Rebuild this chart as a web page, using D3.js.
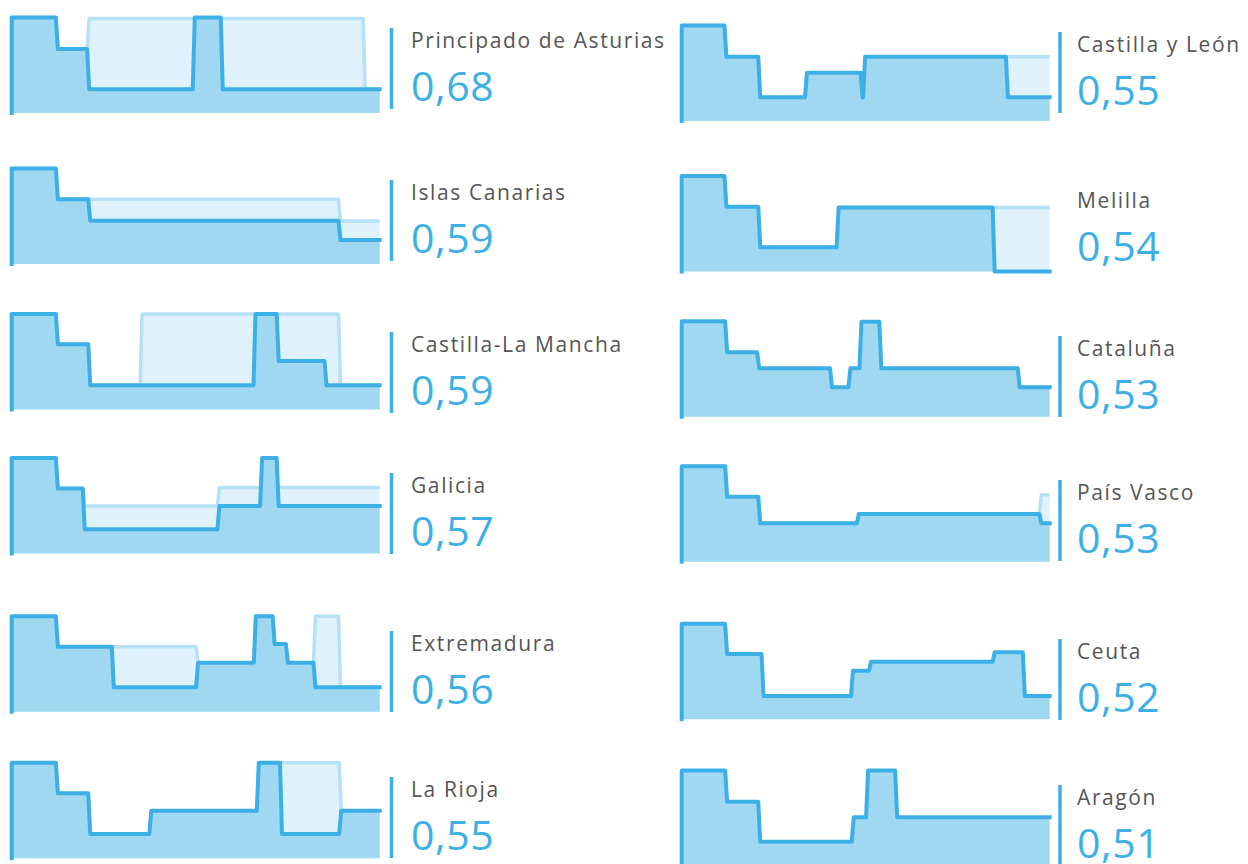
<!DOCTYPE html>
<html>
<head>
<meta charset="utf-8">
<script src="https://cdn.jsdelivr.net/npm/d3@7"></script>
<style>
  html, body { margin: 0; padding: 0; background: #ffffff; }
  svg { display: block; }
</style>
</head>
<body>
<svg id="chart" width="1248" height="864"></svg>
<script>
// ---------- DATA ----------
// Regions in ranking order (column-major: left column, then right column)
const regions = [
  "Principado de Asturias", "Islas Canarias", "Castilla-La Mancha",
  "Galicia", "Extremadura", "La Rioja",
  "Castilla y León", "Melilla", "Cataluña",
  "País Vasco", "Ceuta", "Aragón"
];
const scores = [0.68, 0.59, 0.59, 0.57, 0.56, 0.55, 0.55, 0.54, 0.53, 0.53, 0.52, 0.51];

// Step series: [time (0-100), level (0-100)] – value holds until next breakpoint
const asturias    = [[0,100],[12,67],[20.5,25],[49.2,100],[56.8,25]];
const canarias    = [[0,100],[12,67.7],[20.8,45.3],[88.8,25.1]];
const clm         = [[0,100],[12,68.4],[20.8,25.4],[65.7,100],[72,50.9],[85,25.4]];
const galicia     = [[0,100],[12,68],[19.3,25.4],[55.9,49.8],[67.5,100],[72,49.8]];
const extremadura = [[0,100],[12,68],[27.2,25.5],[50.1,51.3],[65.8,100],[70.9,70.9],[74.5,51.3],[82,25.5]];
const rioja       = [[0,100],[12,68],[20.8,25.4],[37.4,49.8],[66.6,100],[72.9,25.4],[89,49.8]];
const cyl         = [[0,100],[11.6,67.3],[20.8,24.8],[33.5,50.6],[48.6,24.8],[49.3,67.3],[88.1,24.8]];
const melilla     = [[0,100],[11.6,67.9],[20.8,25.3],[42.1,67],[84.5,0]];
const cataluna    = [[0,100],[11.8,67.4],[20.5,50.7],[40.3,30.8],[45.3,50.7],[48.3,99.5],[53.7,50.7],[91.3,30.8]];
const paisVasco   = [[0,100],[11.8,68],[20.8,40.2],[47.6,50],[97.2,40.2]];
const ceuta       = [[0,100],[11.8,68.4],[21.7,24.4],[46,50.9],[50.9,60.3],[84.5,70.2],[92.7,24.4]];
const aragon      = [[0,100],[11.8,67.3],[20.8,25.4],[46.2,51],[50.1,100],[58,51]];

// Reference (previous) series drawn faintly behind; null = identical to current
const asturiasPrev    = [[0,100],[12,67],[20.5,99],[95.5,25]];
const canariasPrev    = [[0,100],[12,67.7],[88.8,45]];
const clmPrev         = [[0,100],[12,68.4],[20.8,25.4],[34.9,100],[88.8,25.4]];
const galiciaPrev     = [[0,100],[12,68],[19.3,49.8],[55.9,69]];
const extremaduraPrev = [[0,100],[12,68],[50.1,51.3],[65.8,100],[70.9,70.9],[74.5,51.3],[82,100],[88.8,25.5]];
const riojaPrev       = [[0,100],[12,68],[20.8,25.4],[37.4,49.8],[66.6,100],[89,49.8]];
const cylPrev         = [[0,100],[11.6,67.3],[20.8,24.8],[33.5,50.6],[48.6,24.8],[49.3,67.3]];
const melillaPrev     = [[0,100],[11.6,67.9],[20.8,25.3],[42.1,67]];
const paisVascoPrev   = [[0,100],[11.8,68],[20.8,40.2],[47.6,50],[97.2,70]];

const current  = [asturias, canarias, clm, galicia, extremadura, rioja,
                  cyl, melilla, cataluna, paisVasco, ceuta, aragon];
const previous = [asturiasPrev, canariasPrev, clmPrev, galiciaPrev, extremaduraPrev, riojaPrev,
                  cylPrev, melillaPrev, null, paisVascoPrev, null, null];
const showRule = [true, true, true, true, true, true, true, false, true, true, true, true];

// ---------- LAYOUT ----------
const colX      = [11.7, 681.7];
const chartW    = 368;
const chartH    = 95.5;
const panelTop  = [17.5, 168.5, 314, 458, 616.2, 762.8, 25.5, 176, 321.2, 466.2, 623.8, 770.5];
const labelMid  = [41, 193, 345, 486, 644, 790, 45, 201, 349, 493, 652, 798];
const SLANT = 2; // px width of each level transition

const COL_LINE = "#3cb0e6";
const COL_FILL = "#a0d8f1";
const COL_PREV_FILL = "#dff1fa";
const COL_PREV_LINE = "#b4e1f6";
const COL_TITLE = "#555555";

const svg = d3.select("#chart");
const fmt = v => d3.format(".2f")(v).replace(".", ",");

// expand step breakpoints into screen points with a small slanted transition
function stepPoints(series, x, y, startAtZero) {
  const pts = [];
  if (startAtZero) pts.push([x(0), y(0)]);
  series.forEach((d, k) => {
    if (k === 0) { pts.push([x(d[0]), y(d[1])]); return; }
    const prev = series[k - 1][1];
    pts.push([x(d[0]), y(prev)]);
    pts.push([Math.min(x(d[0]) + SLANT, x(100)), y(d[1])]);
  });
  pts.push([x(100), y(series[series.length - 1][1])]);
  return pts;
}

regions.forEach((name, i) => {
  const col = i < 6 ? 0 : 1;
  const x0 = colX[col];
  const top = panelTop[i];
  const x = d3.scaleLinear().domain([0, 100]).range([x0, x0 + chartW]);
  const y = d3.scaleLinear().domain([0, 100]).range([top + chartH, top]);

  const g = svg.append("g");

  const area = d3.area().x(d => d[0]).y0(y(0)).y1(d => d[1]);
  const line = d3.line().x(d => d[0]).y(d => d[1]);

  if (previous[i]) {
    const prev = stepPoints(previous[i], x, y, false);
    g.append("path").attr("d", area(prev)).attr("fill", COL_PREV_FILL);
    g.append("path").attr("d", line(prev))
      .attr("fill", "none").attr("stroke", COL_PREV_LINE)
      .attr("stroke-width", 3.5).attr("stroke-linejoin", "round");
  }
  g.append("path").attr("d", area(stepPoints(current[i], x, y, false))).attr("fill", COL_FILL);
  g.append("path").attr("d", line(stepPoints(current[i], x, y, true)))
    .attr("fill", "none").attr("stroke", COL_LINE)
    .attr("stroke-width", 4).attr("stroke-linejoin", "round")
    .attr("stroke-linecap", "square");

  const tx = col === 0 ? 411 : 1077;
  const rx = col === 0 ? 391.5 : 1060;
  const lm = labelMid[i];
  if (showRule[i]) {
    g.append("line")
      .attr("x1", rx).attr("x2", rx)
      .attr("y1", lm - 13).attr("y2", lm + 68)
      .attr("stroke", COL_LINE).attr("stroke-width", 3.5);
  }
  g.append("text")
    .attr("x", tx).attr("y", lm + 7)
    .attr("font-family", "'Open Sans', sans-serif")
    .attr("font-size", 21)
    .attr("letter-spacing", 1.6)
    .attr("fill", COL_TITLE)
    .text(name);
  g.append("text")
    .attr("x", tx).attr("y", lm + 59.5)
    .attr("font-family", "'Open Sans', sans-serif")
    .attr("font-size", 41)
    .attr("letter-spacing", 0.6)
    .attr("fill", COL_LINE)
    .text(fmt(scores[i]));
});
</script>
</body>
</html>
